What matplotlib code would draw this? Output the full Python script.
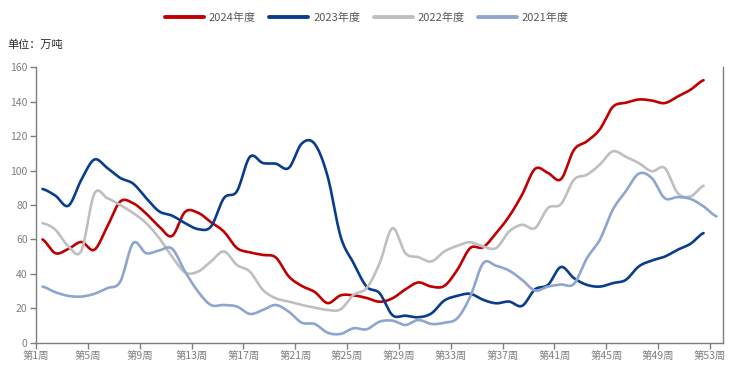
import matplotlib
matplotlib.use('Agg')
import matplotlib.pyplot as plt
import numpy as np

plt.rcParams['font.family'] = ['Noto Sans CJK SC', 'DejaVu Sans']

weeks = list(range(1, 54))
tick_weeks = list(range(1, 54, 4))
tick_labels = ['第%d周' % w for w in tick_weeks]

y2024 = [60, 52, 54.5, 58.5, 54, 67.5, 82, 81, 75, 67.5, 62, 76, 75.5, 70, 64.5, 55,
         52.5, 51, 49.5, 38.5, 33, 29.5, 23, 27.5, 27.5, 26, 23.8, 25.8, 31, 35,
         32.6, 33, 42.3, 55, 55.5, 63.7, 73.4, 86, 101, 98.6, 95, 112, 117, 124,
         137, 139.4, 141.3, 140.7, 139.2, 143, 147, 152.5]
y2023 = [89.3, 85.4, 79.6, 94.7, 106.4, 101.5, 95.7, 92.4, 84, 76.3, 73.8, 69.5, 66,
         67.5, 84, 88, 108, 104.4, 104, 101.5, 115.7, 115.5, 96.6, 61.7, 46.2, 32.6,
         28.8, 16, 15.7, 14.8, 17, 24.5, 27.2, 28.4, 24.9, 22.9, 23.9, 21.4, 31,
         33.6, 44, 37.5, 33.6, 32.6, 34.6, 36.5, 44.3, 47.7, 50, 54, 57.5, 63.7]
y2022 = [69.5, 65.6, 55.9, 53.5, 86.5, 84, 80, 75.3, 69.5, 60.8, 50, 40.8, 41.3, 47.2,
         53, 45.2, 41.3, 30.7, 25.8, 23.9, 21.9, 20.4, 19, 19.4, 27.8, 31.7, 46,
         66.5, 52, 49.7, 47.2, 53, 56.3, 58.4, 55.9, 55, 64.6, 68.5, 66.6, 78.3,
         80.5, 94.7, 97.6, 103.5, 111.2, 108, 104.4, 99.6, 101.5, 87, 85, 91.2]
y2021 = [32.6, 29.3, 27.2, 26.8, 28.4, 31.7, 35.5, 57.9, 52, 53.6, 54.6, 41.3, 29.7,
         21.9, 21.9, 21, 16.7, 19, 21.9, 18, 11.6, 10.9, 5.8, 5.1, 8.4, 7.8, 12.2,
         12.8, 10.3, 13.2, 10.9, 11.6, 14.2, 26.8, 46.2, 44.7, 41.9, 36.5, 30.3,
         32.6, 33.8, 34.2, 49.1, 59.8, 77.3, 88, 98.2, 95.7, 84, 84.6, 83.5, 79.2,
         73.4]

series = [('2024年度', y2024, '#C00000'),
          ('2023年度', y2023, '#0A3C8C'),
          ('2022年度', y2022, '#BFBFBF'),
          ('2021年度', y2021, '#8EA6CF')]


def smooth(x, y, n=12):
    # catmull-rom through the points
    x = np.asarray(x, float)
    y = np.asarray(y, float)
    xs, ys = [], []
    for i in range(len(x) - 1):
        p0 = y[i - 1] if i > 0 else y[i]
        p3 = y[i + 2] if i + 2 < len(y) else y[i + 1]
        p1, p2 = y[i], y[i + 1]
        t = np.linspace(0, 1, n, endpoint=False)
        ys.append(0.5 * ((2 * p1) + (-p0 + p2) * t + (2 * p0 - 5 * p1 + 4 * p2 - p3) * t ** 2
                         + (-p0 + 3 * p1 - 3 * p2 + p3) * t ** 3))
        xs.append(x[i] + t * (x[i + 1] - x[i]))
    xs.append([x[-1]])
    ys.append([y[-1]])
    return np.concatenate(xs), np.concatenate(ys)


fig = plt.figure(figsize=(7.47, 3.68), dpi=100)
fig.patch.set_facecolor('white')
ax = fig.add_axes([36 / 747, 1 - 342.7 / 368, 687 / 747, (342.7 - 67.3) / 368])

for name, vals, c in series:
    sx, sy = smooth(weeks[:len(vals)], vals)
    ax.plot(sx, sy, color=c, lw=1.9, label=name, solid_capstyle='round')

ax.set_xlim(0.5, 53.5)
ax.set_ylim(0, 160)
ax.set_yticks(range(0, 161, 20))
ax.set_xticks([w - 0.5 for w in tick_weeks])
ax.set_xticklabels(tick_labels)

axc = '#7F7F7F'
for s in ['left', 'bottom', 'right']:
    ax.spines[s].set_color(axc)
    ax.spines[s].set_linewidth(1.0)
ax.spines['top'].set_visible(False)
ax.tick_params(axis='both', colors=axc, labelcolor='#7F7F7F', labelsize=7.5, length=4, width=1.0)
ax.tick_params(axis='x', pad=2)
ax.tick_params(axis='y', pad=2)

leg = fig.legend(loc='center', bbox_to_anchor=(367 / 747, 1 - 18 / 368), ncol=4, frameon=False,
                 fontsize=8, handlelength=3.5, handletextpad=0.45, columnspacing=1.2,
                 borderaxespad=0.0, borderpad=0.0)
for t in leg.get_texts():
    t.set_color('#595959')
for l in leg.get_lines():
    l.set_linewidth(2.8)

fig.text(7 / 747, 1 - 45 / 368, '单位：万吨', fontsize=8, color='#262626', va='center', ha='left')

fig.savefig('out.png', dpi=100, facecolor='white')
